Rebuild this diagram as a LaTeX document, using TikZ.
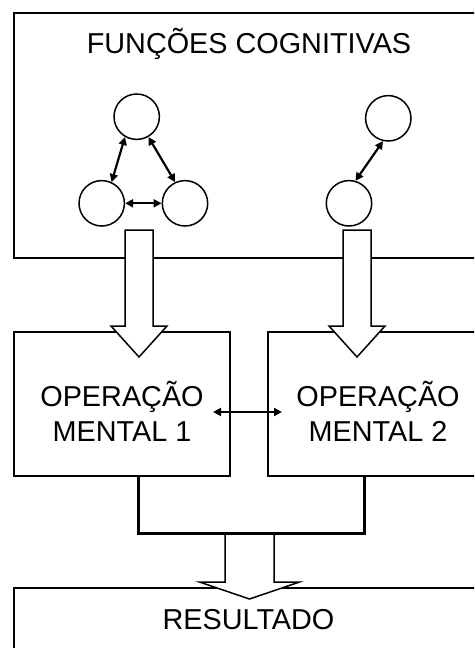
\documentclass[tikz,border=0pt]{standalone}
\usepackage{fontspec}
\setmainfont{Liberation Sans}
\usepackage{tikz}
\usetikzlibrary{arrows.meta,positioning,calc}

\tikzset{
  box/.style={draw,line width=1.5pt,inner sep=0pt,outer sep=0pt},
  func/.style={draw,circle,line width=1.5pt,minimum size=45.4pt,inner sep=0pt},
  link/.style={{Triangle[length=8pt,width=8pt]}-{Triangle[length=8pt,width=8pt]},line width=2.2pt},
  fatarrow/.style={draw,fill=white,line width=1.5pt,line join=miter},
  bus/.style={line width=3pt,line join=miter},
  lbl/.style={anchor=base,inner sep=0pt,font=\fontsize{28.8}{34.6}\selectfont}
}

% centre x, top, neck, tip, half shaft, half head
\newcommand{\fatarrow}[6]{%
  \draw[fatarrow] ({#1-#5},#2) -- ({#1+#5},#2) -- ({#1+#5},#3) -- ({#1+#6},#3)
    -- (#1,#4) -- ({#1-#6},#3) -- ({#1-#5},#3) -- cycle;}

\begin{document}
\begin{tikzpicture}[x=1pt,y=-1pt]
  \useasboundingbox (0,0) rectangle (474,648);
  \clip (0,0) rectangle (474,648);

  \node[box,minimum width=472pt,minimum height=245pt] (cog) at (250,135.5) {};
  \node[lbl] (cogtitle) at (249,53) {FUNÇÕES COGNITIVAS};

  \node[func] (t1) at (136.7,116.7) {};
  \node[func] (b1) at (101.7,203.3) {};
  \node[func] (b2) at (185,203.3) {};
  \node[func] (t2) at (388.3,118.3) {};
  \node[func] (b3) at (349,203.3) {};
  \draw[link] (t1.240) -- (b1.65);
  \draw[link] (t1.300) -- (b2.115);
  \draw[link] (b1) -- (b2);
  \draw[link] (t2.257) -- (b3.74);

  \node[box,minimum width=216pt,minimum height=144pt] (op1) at (122,404) {};
  \node[box,minimum width=218pt,minimum height=144pt] (op2) at (377,404) {};
  \node[lbl] (op1a) at (122,406) {OPERAÇÃO};
  \node[lbl] (op1b) at (122,441) {MENTAL 1};
  \node[lbl] (op2a) at (378,406) {OPERAÇÃO};
  \node[lbl] (op2b) at (378,441) {MENTAL 2};
  \draw[link] ([shift={(-17,8)}]op1.east) -- ([shift={(14,8)}]op2.west);

  \node[box,minimum width=470pt,minimum height=112pt] (res) at (249,644) {};
  \node[lbl] (restext) at (248.5,629) {RESULTADO};

  \fatarrow{139}{230}{326}{357}{14}{28}
  \fatarrow{357}{230}{326}{357}{14}{28}
  \fatarrow{249.5}{533}{582}{599}{24.5}{50}

  \coordinate (busl) at (138,533);
  \coordinate (busr) at (364,533);
  \draw[bus] (op1.south -| busl) -- (busl) -- (busr) -- (op2.south -| busr);
\end{tikzpicture}
\end{document}
